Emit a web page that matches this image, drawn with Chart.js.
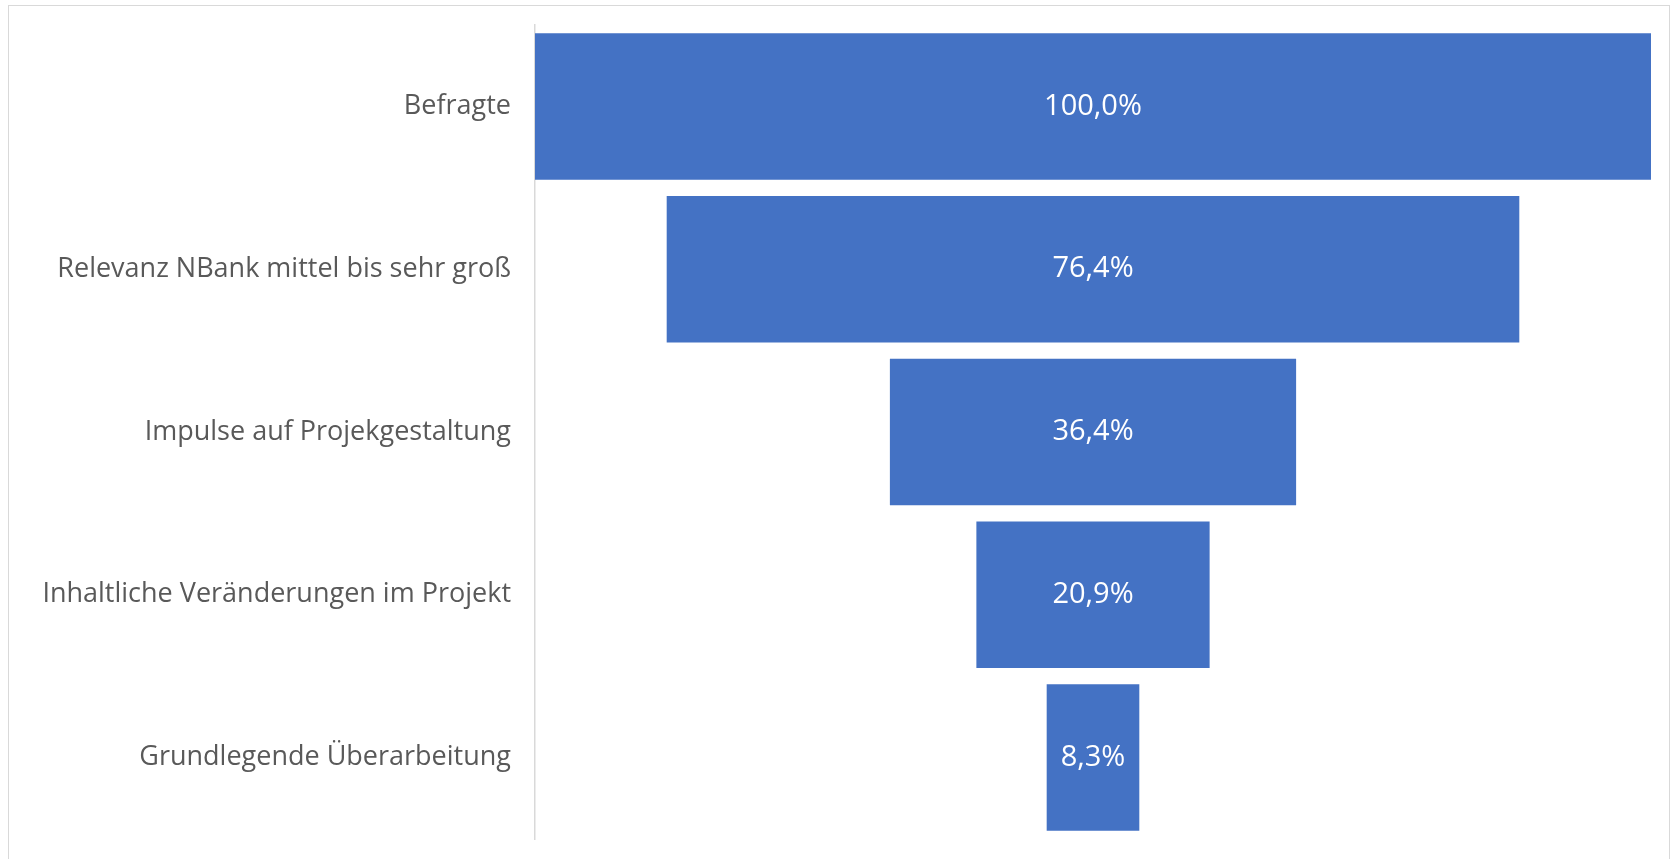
<!DOCTYPE html>
<html>
<head>
<meta charset="utf-8">
<script src="https://cdn.jsdelivr.net/npm/chart.js@4"></script>
<style>
  html, body { margin: 0; padding: 0; background: #fff; overflow: hidden; }
  #frame {
    position: absolute; left: 8px; top: 5px; width: 1662px; height: 870px;
    border: 1px solid #d9d9d9; box-sizing: border-box;
  }
  #wrap { position: absolute; left: 0; top: 0; width: 1673px; height: 859px; }
</style>
</head>
<body>
<div id="frame"></div>
<div id="wrap"><canvas id="funnel"></canvas></div>
<script>
// funnel stages, values in percent of respondents
const stages = [
  "Befragte",
  "Relevanz NBank mittel bis sehr groß",
  "Impulse auf Projekgestaltung",
  "Inhaltliche Veränderungen im Projekt",
  "Grundlegende Überarbeitung",
];
const shares = [100.0, 76.4, 36.4, 20.9, 8.3];

const FONT = "'Open Sans', sans-serif";
const fmt = (v) => v.toFixed(1).replace(".", ",") + "%";

// each bar floats around the middle of the 0..100 axis
const floating = shares.map((v) => [50 - v / 2, 50 + v / 2]);

/* ---------- value labels inside the bars ---------- */
const barLabels = {
  id: "barLabels",
  afterDatasetsDraw(chart) {
    const ctx = chart.ctx;
    const meta = chart.getDatasetMeta(0);
    ctx.save();
    ctx.fillStyle = "#ffffff";
    ctx.font = "29px " + FONT;
    ctx.textAlign = "center";
    ctx.textBaseline = "middle";
    meta.data.forEach((bar, i) => {
      const { x, y, base } = bar.getProps(["x", "y", "base"], true);
      ctx.fillText(fmt(shares[i]), (x + base) / 2, y);
    });
    ctx.restore();
  },
};

new Chart(document.getElementById("funnel"), {
  type: "bar",
  data: {
    labels: stages,
    datasets: [
      {
        data: floating,
        backgroundColor: "#4472C4",
        borderWidth: 0,
        categoryPercentage: 1,
        barPercentage: 0.9,
      },
    ],
  },
  options: {
    indexAxis: "y",
    responsive: true,
    maintainAspectRatio: false,
    animation: false,
    layout: { padding: { left: 10, right: 22, top: 25, bottom: 20 } },
    plugins: { legend: { display: false }, tooltip: { enabled: false } },
    scales: {
      x: { display: false, min: 0, max: 100 },
      y: {
        grid: { display: false, drawTicks: false },
        border: { display: true, color: "#d9d9d9", width: 1.5 },
        ticks: { color: "#595959", padding: 24, font: { family: FONT, size: 27 } },
        afterFit(scale) {
          // fixed label column, no extra top/bottom room for the labels
          scale.width = 525;
          scale.paddingTop = 0;
          scale.paddingBottom = 0;
        },
      },
    },
  },
  plugins: [barLabels],
});
</script>
</body>
</html>
